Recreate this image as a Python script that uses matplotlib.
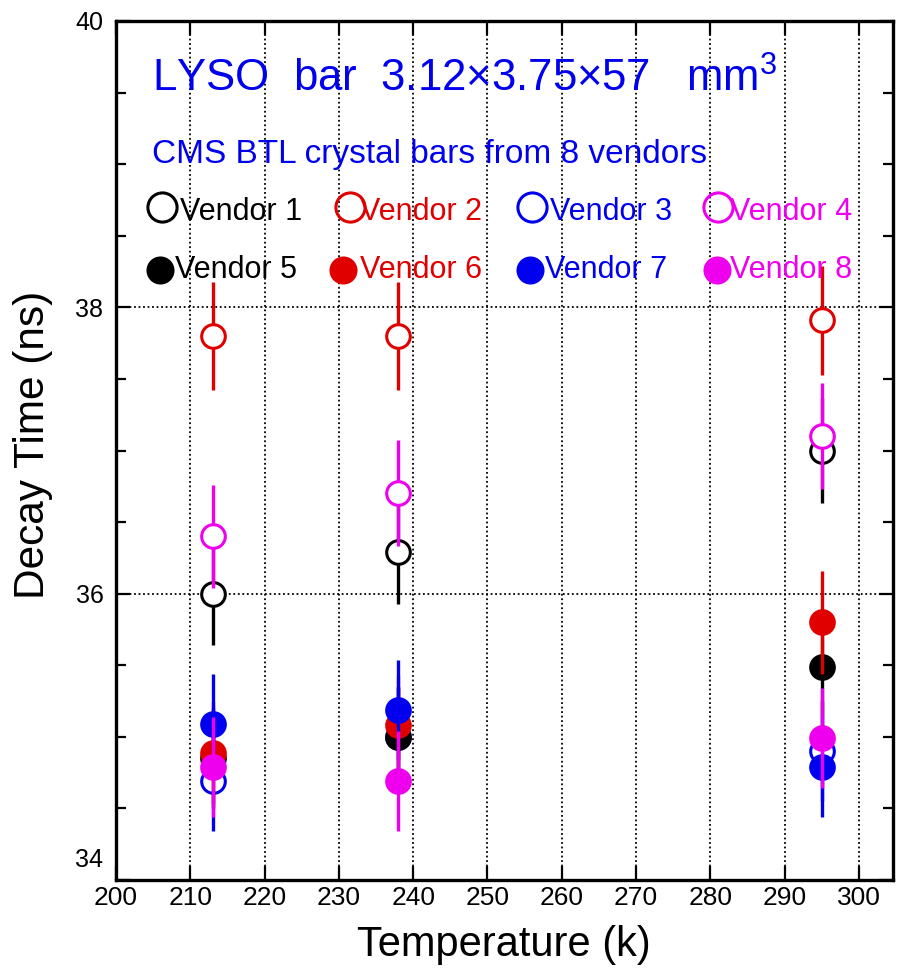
"""
LYSO bar decay time vs temperature for 8 vendors
"""
import numpy as np
from matplotlib import pyplot as plt
from matplotlib.ticker import MultipleLocator
from matplotlib.transforms import ScaledTranslation

plt.rcParams['font.family'] = ['Liberation Sans', 'DejaVu Sans']
plt.rcParams['mathtext.fontset'] = 'custom'
plt.rcParams['mathtext.rm'] = 'Liberation Sans'

temps = [213, 238, 295]

vendor_names = ['Vendor 1', 'Vendor 2', 'Vendor 3', 'Vendor 4',
                'Vendor 5', 'Vendor 6', 'Vendor 7', 'Vendor 8']
colors = ['black', '#e00000', '#0000ee', '#ee00ee',
          'black', '#e00000', '#0000ee', '#ee00ee']
filled = [False, False, False, False, True, True, True, True]

decay = [
    [36.00, 36.29, 37.00],
    [37.80, 37.80, 37.91],
    [34.69, 35.00, 34.90],
    [36.40, 36.70, 37.10],
    [34.85, 35.00, 35.49],
    [34.89, 35.08, 35.80],
    [35.09, 35.19, 34.79],
    [34.79, 34.69, 34.99],
]
decay_err = [
    [0.36, 0.36, 0.37],
    [0.38, 0.38, 0.38],
    [0.35, 0.35, 0.35],
    [0.36, 0.37, 0.37],
    [0.35, 0.35, 0.35],
    [0.35, 0.35, 0.36],
    [0.35, 0.35, 0.35],
    [0.35, 0.35, 0.35],
]

fig = plt.figure(figsize=(8.99, 9.73), dpi=100)
ax = fig.add_axes([116 / 899, 1 - 880 / 973, 777 / 899, 859 / 973])

for i in range(8):
    ax.errorbar(temps, decay[i], yerr=decay_err[i], fmt='o', color=colors[i],
                ms=17, mew=2.2, elinewidth=2.4, capsize=0,
                mfc=colors[i] if filled[i] else 'white', mec=colors[i], zorder=3 + i)

ax.set_xlim(200, 304.6)
ax.set_ylim(34, 40)
ax.xaxis.set_major_locator(MultipleLocator(10))
ax.set_yticks([34, 36, 38, 40])
ax.yaxis.set_minor_locator(MultipleLocator(0.5))

# dotted grid
for t in range(210, 301, 10):
    ax.axvline(t, color='black', ls=(0, (1, 1.5)), lw=1.3, zorder=1)
for v in [36, 38]:
    ax.axhline(v, color='black', ls=(0, (1, 1.5)), lw=1.3, zorder=1)

ax.tick_params(axis='both', which='both', direction='in', top=True, right=True, width=1.6)
ax.tick_params(axis='both', which='major', length=10)
ax.tick_params(axis='y', which='minor', length=7)
ax.tick_params(axis='x', labelsize=19, pad=4)
ax.tick_params(axis='y', labelsize=18, pad=9)
for s in ax.spines.values():
    s.set_linewidth(2.4)
lab34 = ax.get_yticklabels()[0]
lab34.set_verticalalignment('bottom')
lab34.set_transform(lab34.get_transform() + ScaledTranslation(0, 6 / 72, fig.dpi_scale_trans))

fig.text(33 / 899, 1 - 445 / 973, 'Decay Time (ns)', rotation=90,
         ha='center', va='center', fontsize=30.5)
fig.text(504 / 899, 1 - 945 / 973, 'Temperature (k)', ha='center', va='center', fontsize=30)

ax.text(0.046, 0.9173, 'LYSO  bar  3.12\u00d73.75\u00d757   mm$^3$', color='#0000ee',
        fontsize=31.5, transform=ax.transAxes, va='baseline', ha='left')
ax.text(0.046, 0.8347, 'CMS BTL crystal bars from 8 vendors', color='#0000ee',
        fontsize=24, transform=ax.transAxes, va='baseline', ha='left')

# hand-placed legend
leg_mx = [0.0592, 0.301, 0.5354, 0.7748, 0.0566, 0.2921, 0.5328, 0.7735]
leg_tx = [0.0824, 0.314, 0.5586, 0.790, 0.0759, 0.314, 0.552, 0.790]
leg_my = [0.7829] * 4 + [0.7101] * 4
leg_ty = [0.7683] * 4 + [0.7008] * 4
for i in range(8):
    ax.plot(leg_mx[i], leg_my[i], 'o', transform=ax.transAxes, color=colors[i],
            ms=18 if filled[i] else 21, mew=2.2,
            mfc=colors[i] if filled[i] else 'none', mec=colors[i], zorder=20, clip_on=False)
    ax.text(leg_tx[i], leg_ty[i], vendor_names[i], color=colors[i], fontsize=22,
            transform=ax.transAxes, va='baseline', ha='left', zorder=20)

fig.savefig('out.png', dpi=100)
